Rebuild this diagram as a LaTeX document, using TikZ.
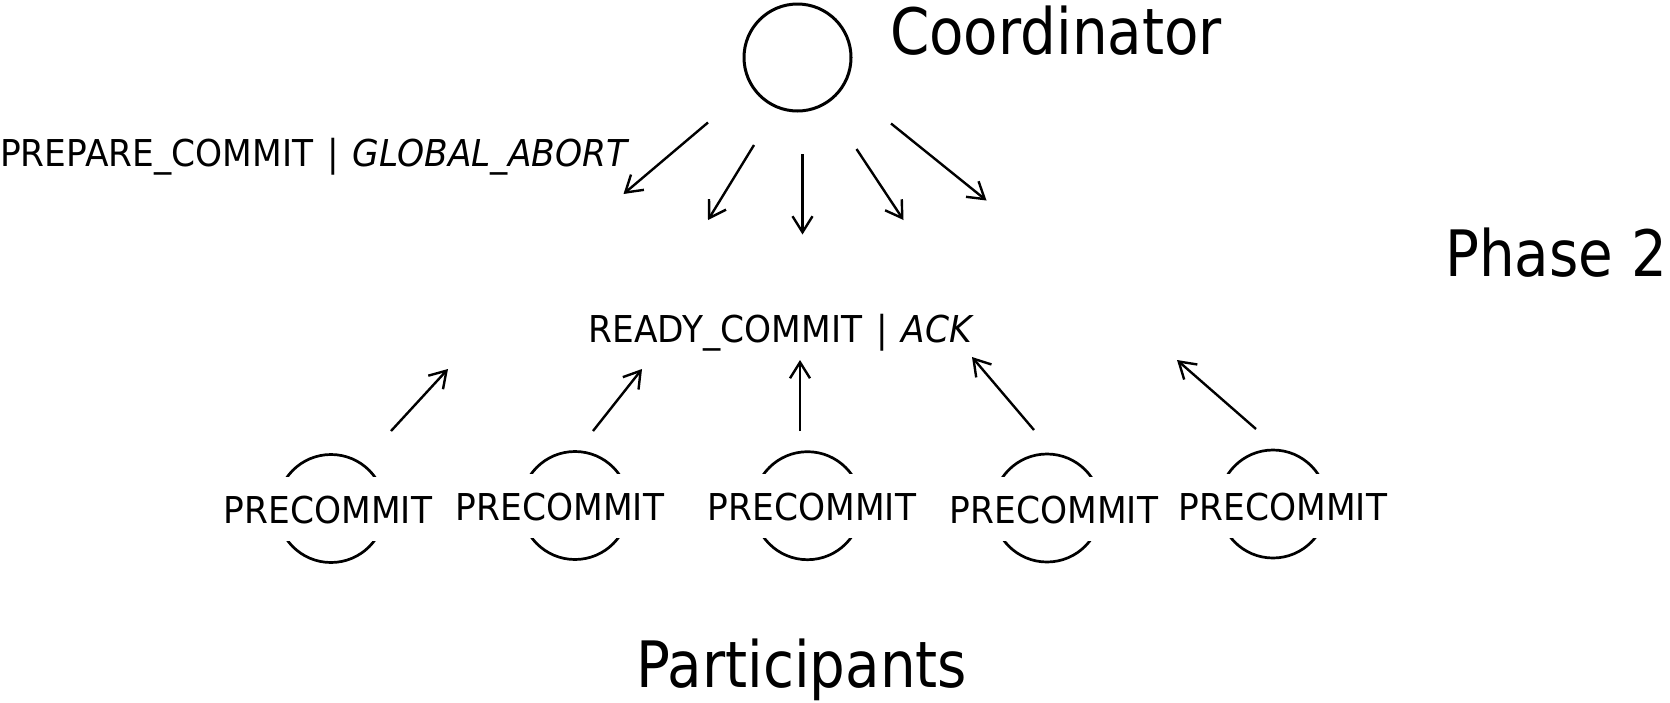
\documentclass[tikz,border=0pt]{standalone}
\usepackage{fontspec}
\setmainfont{DejaVu Sans}[FakeStretch=0.93, ItalicFont={DejaVu Sans Oblique}]
\newfontfamily\bigfont{DejaVu Sans}[FakeStretch=0.88]
\usetikzlibrary{arrows.meta}
\newcommand\barsep{\hspace{3pt}|\hspace{3pt}}
\begin{document}
\begin{tikzpicture}[x=1pt, y=-1pt,
  smalltext/.style={inner sep=0pt, font=\fontsize{37}{44}\selectfont},
  bigtext/.style={inner sep=0pt, font=\bigfont\fontsize{64}{72}\selectfont},
  coordcircle/.style={circle, draw, line width=3pt, minimum size=107pt, inner sep=0pt},
  partcircle/.style={circle, draw, line width=2.7pt, minimum size=108pt, inner sep=0pt},
  partlabel/.style={smalltext, anchor=base, fill=white, inner xsep=2pt,
    text height=46.5pt, text depth=17.5pt},
  msg/.style={line width=2.4pt, -{Straight Barb[length=16pt, width=20pt]}}]
\useasboundingbox (0,0) rectangle (1670,702);

% coordinator
\node[coordcircle] (coord) at (797.5,57.5) {};
\node[bigtext, anchor=base west] (coordlbl) at (890,54) {Coordinator};

% phase and participant titles
\node[bigtext, anchor=base west] (phase) at (1445,276) {Phase 2};
\node[bigtext, anchor=base west] (parts) at (636,687) {Participants};

% message labels
\node[smalltext, anchor=base west] (prep) at (0,166) {PREPARE\_COMMIT \barsep{} \textit{GLOBAL\_ABORT}};
\node[smalltext, anchor=base west] (ready) at (588.5,342) {READY\_COMMIT \barsep{} \textit{ACK}};

% participants: circles partly hidden behind their state labels
\node[partcircle] (c1) at (331,508.5) {};
\node[partcircle] (c2) at (575,505.5) {};
\node[partcircle] (c3) at (807.5,505.7) {};
\node[partcircle] (c4) at (1047,508) {};
\node[partcircle] (c5) at (1273,504) {};
\node[partlabel] (p1) at (328,523) {PRECOMMIT};
\node[partlabel] (p2) at (560,520) {PRECOMMIT};
\node[partlabel] (p3) at (812,520) {PRECOMMIT};
\node[partlabel] (p4) at (1054,523) {PRECOMMIT};
\node[partlabel] (p5) at (1283,520) {PRECOMMIT};

% downward messages from the coordinator
\coordinate (d1s) at (708,122.5);  \coordinate (d1e) at (623.5,194);
\coordinate (d2s) at (754,145);    \coordinate (d2e) at (708,220);
\coordinate (d3s) at (802.5,154);  \coordinate (d3e) at (802.5,234.5);
\coordinate (d4s) at (856.5,149);  \coordinate (d4e) at (903.5,220);
\coordinate (d5s) at (891,123.5);  \coordinate (d5e) at (986.5,200.5);
\foreach \i in {1,...,5} \draw[msg] (d\i s) -- (d\i e);

% upward replies from the participants
\coordinate (u1s) at (391,431);    \coordinate (u1e) at (448,369);
\coordinate (u2s) at (593,431);    \coordinate (u2e) at (642,369);
\coordinate (u3s) at (800,431);    \coordinate (u3e) at (800,360);
\coordinate (u4s) at (1034,430);   \coordinate (u4e) at (972,357);
\coordinate (u5s) at (1256,429);   \coordinate (u5e) at (1177,360);
\foreach \i in {1,...,5} \draw[msg] (u\i s) -- (u\i e);
\end{tikzpicture}
\end{document}
